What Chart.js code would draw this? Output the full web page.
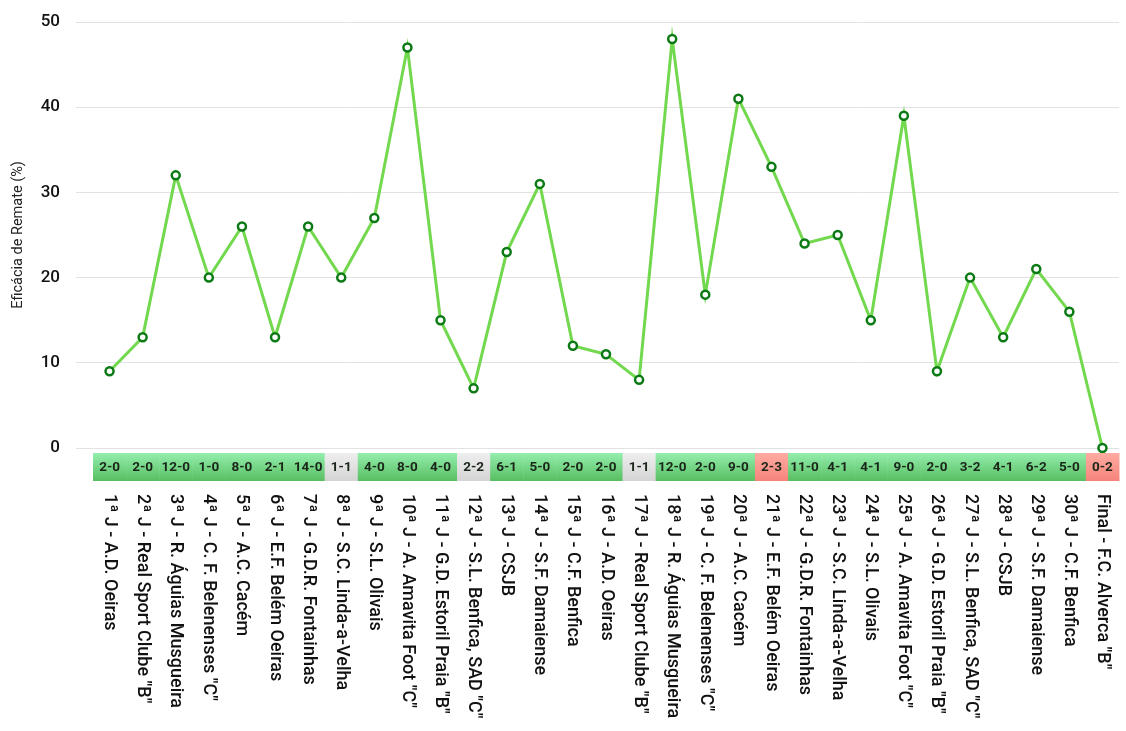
<!DOCTYPE html>
<html lang="pt">
  <head>
    <meta charset="UTF-8" />
    <title>Eficácia de Remate</title>
    <script src="https://cdn.jsdelivr.net/npm/chart.js"></script>
    <style>
      html, body { margin: 0; padding: 0; background: #fff; }
      #grafico { width: 1126px; height: 731px; }
    </style>
  </head>
  <body>
    <div id="grafico"><canvas id="eficacia"></canvas></div>
  </body>
</html>
<script>
  const jogos = [
    "1ª J - A.D. Oeiras", "2ª J - Real Sport Clube \"B\"", "3ª J - R. Águias Musgueira",
    "4ª J - C. F. Belenenses \"C\"", "5ª J - A.C. Cacém", "6ª J - E.F. Belém Oeiras",
    "7ª J - G.D.R. Fontainhas", "8ª J - S.C. Linda-a-Velha", "9ª J - S.L. Olivais",
    "10ª J - A. Amavita Foot \"C\"", "11ª J - G.D. Estoril Praia \"B\"", "12ª J - S.L. Benfica, SAD \"C\"",
    "13ª J - CSJB", "14ª J - S.F. Damaiense", "15ª J - C.F. Benfica", "16ª J - A.D. Oeiras",
    "17ª J - Real Sport Clube \"B\"", "18ª J - R. Águias Musgueira", "19ª J - C. F. Belenenses \"C\"",
    "20ª J - A.C. Cacém", "21ª J - E.F. Belém Oeiras", "22ª J - G.D.R. Fontainhas",
    "23ª J - S.C. Linda-a-Velha", "24ª J - S.L. Olivais", "25ª J - A. Amavita Foot \"C\"",
    "26ª J - G.D. Estoril Praia \"B\"", "27ª J - S.L. Benfica, SAD \"C\"", "28ª J - CSJB",
    "29ª J - S.F. Damaiense", "30ª J - C.F. Benfica", "Final - F.C. Alverca \"B\""
  ];
  const eficacia = [9, 13, 32, 20, 26, 13, 26, 20, 27, 47, 15, 7, 23, 31, 12, 11, 8, 48, 18, 41, 33, 24, 25, 15, 39, 9, 20, 13, 21, 16, 0];
  const resultados = [
    "2-0", "2-0", "12-0", "1-0", "8-0", "2-1", "14-0", "1-1", "4-0", "8-0", "4-0", "2-2",
    "6-1", "5-0", "2-0", "2-0", "1-1", "12-0", "2-0", "9-0", "2-3", "11-0", "4-1", "4-1",
    "9-0", "2-0", "3-2", "4-1", "6-2", "5-0", "0-2"
  ];

  // cor da célula conforme vitória / empate / derrota
  function corResultado(ctx, r, topo, fundo) {
    const [a, b] = r.split("-").map(Number);
    const g = ctx.createLinearGradient(0, topo, 0, fundo);
    if (a > b) {
      g.addColorStop(0, "#94eeae");
      g.addColorStop(1, "#58be60");
    } else if (a == b) {
      g.addColorStop(0, "#eeeeee");
      g.addColorStop(1, "#d4d4d4");
    } else {
      g.addColorStop(0, "#ffaca2");
      g.addColorStop(1, "#f6837a");
    }
    return g;
  }

  const faixaResultados = {
    id: "faixaResultados",
    afterDraw(chart) {
      const ctx = chart.ctx;
      const x = chart.scales.x;
      const area = chart.chartArea;
      const passo = x.width / jogos.length;
      const topo = area.bottom + 5;
      const fundo = area.bottom + 33;
      ctx.save();
      resultados.forEach((r, i) => {
        const cx = x.getPixelForValue(i);
        ctx.fillStyle = corResultado(ctx, r, topo, fundo);
        ctx.fillRect(cx - passo / 2, topo, passo + 0.5, fundo - topo);
      });
      ctx.fillStyle = "#1a261a";
      ctx.font = "bold 13.5px Roboto";
      ctx.textAlign = "center";
      ctx.textBaseline = "middle";
      resultados.forEach((r, i) => {
        ctx.fillText(r, x.getPixelForValue(i), (topo + fundo) / 2 + 1);
      });
      // nomes dos jogos, a ler de cima para baixo
      ctx.fillStyle = "#111";
      ctx.font = "500 18px Roboto";
      ctx.textAlign = "left";
      jogos.forEach((j, i) => {
        ctx.save();
        ctx.translate(x.getPixelForValue(i), fundo + 13);
        ctx.rotate(Math.PI / 2);
        ctx.fillText(j, 0, 0);
        ctx.restore();
      });
      ctx.restore();
    },
  };

  const grafico = document.getElementById("eficacia");
  let eficaciaChart = new Chart(grafico, {
    type: "line",
    data: {
      labels: jogos,
      datasets: [
        {
          label: "Eficácia de Remate (%)",
          data: eficacia,
          borderColor: "#72d84e",
          borderWidth: 3,
          tension: 0,
          pointRadius: 4,
          pointBorderWidth: 2.5,
          pointBorderColor: "#0b7a14",
          pointBackgroundColor: "#ffffff",
          clip: false,
        },
      ],
    },
    options: {
      responsive: true,
      maintainAspectRatio: false,
      animation: false,
      layout: {
        padding: { top: 22, right: 7, bottom: 283, left: 0 },
      },
      plugins: {
        legend: { display: false },
        tooltip: { enabled: false },
      },
      scales: {
        x: {
          offset: true,
          grid: { display: false },
          border: { display: false },
          ticks: { display: false },
          afterFit: (s) => { s.height = 0; },
        },
        y: {
          min: 0,
          max: 50,
          ticks: {
            stepSize: 10,
            color: "#111",
            padding: 16,
            font: { family: "Roboto", size: 17, weight: "500" },
          },
          grid: { color: "#e2e2e2", tickLength: 17, lineWidth: 1 },
          border: { display: false },
          title: {
            display: true,
            text: "Eficácia de Remate (%)",
            color: "#222",
            font: { family: "Roboto", size: 14.5 },
            padding: { top: 10, bottom: 4 },
          },
          afterFit: (s) => {
            s.width = 93;
            s.paddingTop = 0;
            s.paddingBottom = 0;
          },
        },
      },
    },
    plugins: [faixaResultados],
  });
</script>
